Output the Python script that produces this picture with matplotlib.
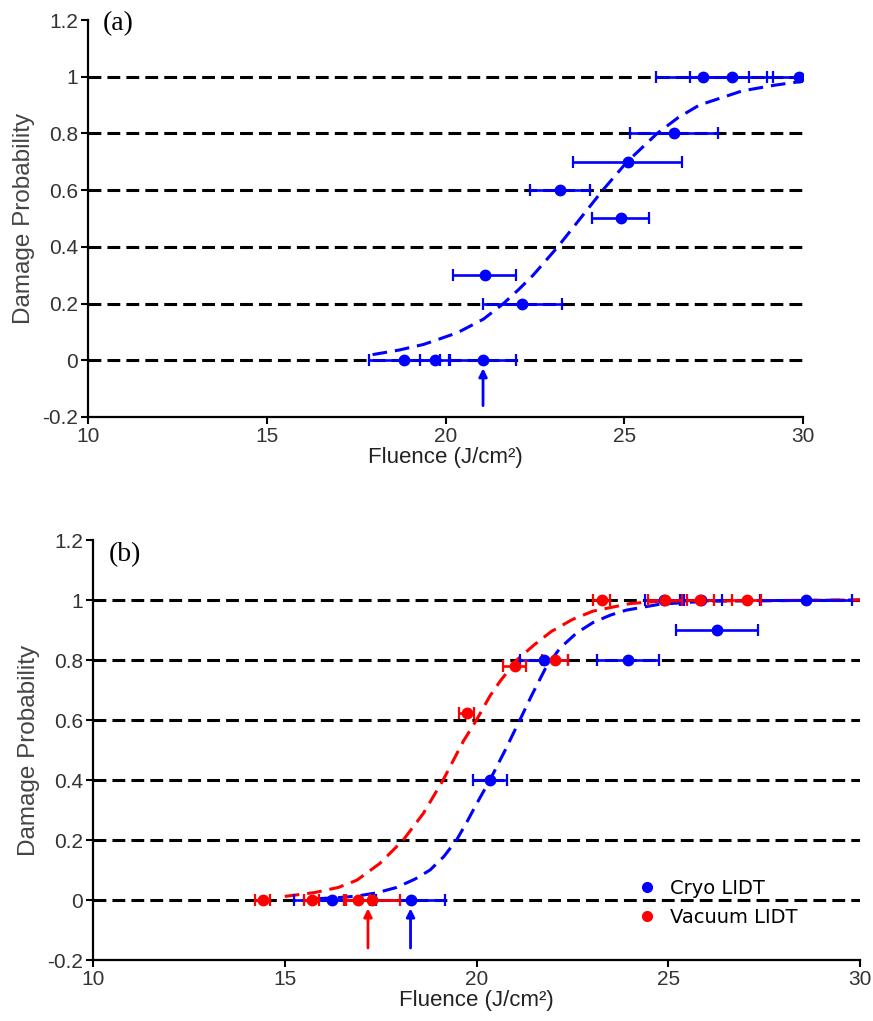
import matplotlib
matplotlib.use("Agg")
import matplotlib.pyplot as plt
from matplotlib.lines import Line2D

# ---------------- data ----------------
# panel (a)
a_x = [27.2, 28.0, 29.9, 26.4, 25.1, 23.2, 24.9, 21.1, 22.15, 18.85, 19.7, 21.05]
a_y = [1, 1, 1, 0.8, 0.7, 0.6, 0.5, 0.3, 0.2, 0, 0, 0]
a_xerr = [1.3, 1.15, 0.9, 1.23, 1.52, 0.84, 0.8, 0.88, 1.1, 1.0, 0.4, 0.92]
a_fit_x = [17.96, 18.7, 19.39, 20.33, 21.06, 21.62, 22.05, 22.45, 23.14, 23.77, 24.4,
           25.08, 25.92, 26.5, 27.1, 28.3, 29.2, 30.0]
a_fit_y = [0.02, 0.036, 0.056, 0.097, 0.145, 0.2, 0.25, 0.3, 0.4, 0.5, 0.6,
           0.7, 0.8, 0.855, 0.9, 0.95, 0.97, 0.984]
a_arrow_x = [21.05]

# panel (b)
cryo_x = [24.9, 25.85, 28.6, 26.27, 23.95, 21.76, 20.35, 16.23, 18.28]
cryo_y = [1, 1, 1, 0.9, 0.8, 0.8, 0.4, 0, 0]
cryo_xerr = [0.5, 0.55, 1.2, 1.08, 0.81, 0.63, 0.45, 1.0, 0.9]
vac_x = [23.26, 24.92, 25.83, 27.05, 21.0, 22.05, 19.74, 14.42, 15.7, 16.91, 17.27]
vac_y = [1, 1, 1, 1, 0.78, 0.8, 0.625, 0, 0, 0, 0]
vac_xerr = [0.22, 0.45, 0.35, 0.38, 0.3, 0.33, 0.2, 0.2, 0.2, 0.3, 0.73]
cryo_fit_x = [15.8, 16.4, 16.88, 17.4, 17.92, 18.4, 18.79, 19.15, 19.48, 19.75, 20.0,
              20.35, 20.75, 21.13, 21.45, 21.81, 22.18, 22.61, 23.04, 23.5, 23.9,
              24.78, 26.0, 30.0]
cryo_fit_y = [0.004, 0.008, 0.013, 0.024, 0.042, 0.07, 0.1, 0.145, 0.2, 0.26, 0.32,
              0.4, 0.5, 0.6, 0.685, 0.775, 0.84, 0.89, 0.925, 0.95, 0.966,
              0.986, 0.996, 1.0]
vac_fit_x = [15.0, 15.79, 16.4, 16.88, 17.48, 18.09, 18.61, 19.13, 19.66, 20.0, 20.35,
             20.62, 21.05, 21.5, 21.95, 22.5, 23.04, 24.0, 24.78, 30.0]
vac_fit_y = [0.012, 0.025, 0.042, 0.066, 0.122, 0.2, 0.288, 0.4, 0.53, 0.6, 0.68,
             0.73, 0.8, 0.85, 0.895, 0.935, 0.963, 0.988, 0.996, 1.0]
cryo_arrow_x = [18.28]
vac_arrow_x = [17.17]

grid_levels = [0, 0.2, 0.4, 0.6, 0.8, 1.0]
y_ticks = [-0.2, 0, 0.2, 0.4, 0.6, 0.8, 1.0, 1.2]
y_ticklabels = ["-0.2", "0", "0.2", "0.4", "0.6", "0.8", "1", "1.2"]
x_ticks = [10, 15, 20, 25, 30]
x_ticklabels = ["10", "15", "20", "25", "30"]

BLUE = "#0000FF"
RED = "#FF0000"
TXT = "#333333"

plt.rcParams["font.family"] = ["Liberation Sans", "DejaVu Sans"]

fig = plt.figure(figsize=(8.73, 10.21), dpi=100)
ax_a = fig.add_axes([88 / 873, 1 - 417 / 1021, (803 - 88) / 873, (417 - 20) / 1021])
ax_b = fig.add_axes([93 / 873, 1 - 960 / 1021, (860 - 93) / 873, (960 - 540) / 1021])


def style(ax):
    ax.set_xlim(10, 30)
    ax.set_ylim(-0.2, 1.2)
    for s in ["top", "right"]:
        ax.spines[s].set_visible(False)
    for s in ["left", "bottom"]:
        ax.spines[s].set_linewidth(1.6)
    ax.set_xticks(x_ticks)
    ax.set_xticklabels(x_ticklabels)
    ax.set_yticks(y_ticks)
    ax.set_yticklabels(y_ticklabels)
    ax.tick_params(axis="both", direction="out", length=5, width=1.5,
                   labelsize=15, labelcolor=TXT, pad=2)
    ax.set_ylabel("Damage Probability", fontsize=17.5, color="#444444", labelpad=5)
    ax.set_xlabel("Fluence (J/cm²)", fontsize=16, color="#222222", labelpad=1)
    for g in grid_levels:
        ax.axhline(g, color="black", lw=2.2, linestyle=(0, (4.2, 2.0)), zorder=1)


def errs(ax, x, y, xe, color):
    ax.errorbar(x, y, xerr=xe, fmt="o", color=color, ms=7.5, elinewidth=1.9,
                capsize=4, capthick=1.6, zorder=4)


def arrows(ax, xs, color):
    for xv in xs:
        ax.annotate("", xy=(xv, -0.028), xytext=(xv, -0.16),
                    arrowprops=dict(arrowstyle="-|>", color=color, lw=2,
                                    mutation_scale=12, shrinkA=0, shrinkB=0),
                    zorder=5)


# ---- panel (a)
style(ax_a)
ax_a.plot(a_fit_x, a_fit_y, color=BLUE, lw=2.2, linestyle=(0, (4.8, 2.6)), zorder=3)
errs(ax_a, a_x, a_y, a_xerr, BLUE)
arrows(ax_a, a_arrow_x, BLUE)
ax_a.text(0.02, 0.99, "(a)", transform=ax_a.transAxes, fontsize=20,
          family=["Liberation Serif"], va="center", ha="left")

# ---- panel (b)
style(ax_b)
ax_b.plot(cryo_fit_x, cryo_fit_y, color=BLUE, lw=2.2, linestyle=(0, (4.8, 2.6)), zorder=3)
ax_b.plot(vac_fit_x, vac_fit_y, color=RED, lw=2.2, linestyle=(0, (4.8, 2.6)), zorder=3)
errs(ax_b, cryo_x, cryo_y, cryo_xerr, BLUE)
errs(ax_b, vac_x, vac_y, vac_xerr, RED)
arrows(ax_b, vac_arrow_x, RED)
arrows(ax_b, cryo_arrow_x, BLUE)
ax_b.text(0.02, 0.965, "(b)", transform=ax_b.transAxes, fontsize=20,
          family=["Liberation Serif"], va="center", ha="left")

handles = [Line2D([], [], marker="o", color=BLUE, ls="none", ms=7),
           Line2D([], [], marker="o", color=RED, ls="none", ms=7)]
ax_b.legend(handles, ["Cryo LIDT", "Vacuum LIDT"], loc="upper left",
            bbox_to_anchor=(0.71, 0.193), frameon=False, borderaxespad=0, borderpad=0,
            handlelength=1.0, handletextpad=0.65, labelspacing=0.5,
            prop={"family": "DejaVu Sans", "size": 14})

fig.savefig("out.png", dpi=100)
